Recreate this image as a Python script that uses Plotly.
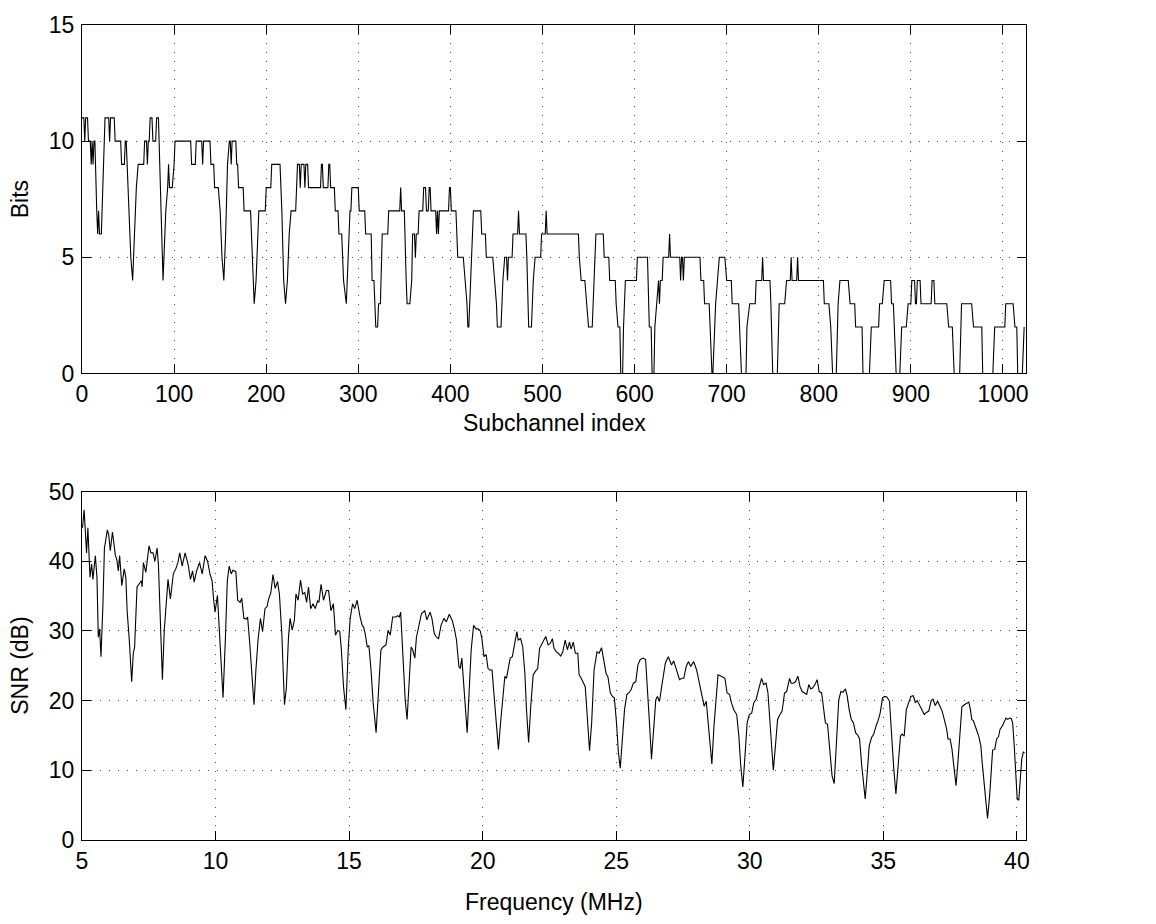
import plotly.graph_objects as go
from plotly.subplots import make_subplots

# ---- Top panel: bits per subchannel (vertices) ----
bits_idx = [0, 2, 3, 4, 6, 7, 9, 10, 11, 12, 13, 14, 16, 17, 18, 19, 21, 23, 24, 25, 29, 30, 31, 35, 36, 42, 43, 46, 47, 48,
            51, 53, 55, 57, 59, 61, 67, 68, 70, 71, 72, 73, 74, 76, 77, 80, 81, 83, 86, 88, 90, 91, 93, 94, 95, 98, 100, 101,
            118, 119, 123, 124, 130, 131, 132, 139, 140, 143, 144, 148, 150, 152, 154, 156, 158, 160, 161, 162, 163, 167,
            168, 169, 170, 175, 176, 183, 185, 187, 189, 190, 192, 199, 200, 205, 206, 215, 217, 219, 221, 223, 225, 227,
            232, 233, 234, 236, 237, 238, 241, 242, 243, 245, 246, 259, 260, 261, 262, 267, 268, 269, 270, 274, 275, 278,
            279, 282, 284, 287, 289, 291, 292, 293, 300, 301, 307, 308, 314, 315, 317, 319, 321, 322, 324, 326, 332, 333,
            345, 346, 347, 350, 352, 353, 356, 358, 359, 361, 362, 363, 365, 366, 370, 371, 373, 374, 376, 377, 378, 379,
            384, 385, 386, 387, 388, 398, 399, 400, 401, 406, 407, 408, 414, 416, 418, 419, 420, 422, 424, 425, 433, 434,
            438, 439, 446, 448, 450, 451, 455, 457, 459, 461, 462, 463, 467, 468, 473, 474, 475, 482, 483, 485, 488, 490,
            492, 498, 499, 503, 504, 505, 539, 540, 542, 546, 548, 550, 554, 556, 557, 558, 566, 567, 572, 573, 579, 580,
            582, 584, 585, 587, 588, 590, 602, 603, 614, 616, 618, 619, 621, 622, 624, 626, 627, 628, 630, 631, 637, 638,
            639, 649, 650, 651, 652, 653, 654, 671, 672, 675, 676, 681, 682, 684, 685, 687, 688, 690, 692, 698, 700, 705,
            706, 713, 714, 716, 721, 722, 725, 731, 732, 738, 739, 740, 747, 748, 750, 755, 757, 763, 765, 769, 770, 771,
            776, 777, 778, 805, 806, 811, 813, 815, 819, 821, 823, 832, 834, 839, 840, 847, 848, 855, 857, 865, 866, 869,
            871, 878, 879, 881, 882, 884, 888, 890, 895, 897, 900, 901, 904, 905, 906, 907, 910, 911, 922, 923, 925, 926,
            939, 941, 945, 947, 953, 955, 966, 968, 977, 978, 989, 991, 1002, 1003, 1011, 1013, 1015, 1016, 1021, 1023]
bits_val = [11, 11, 10, 11, 11, 10, 10, 9, 10, 9, 10, 10, 7, 6, 7, 6, 6, 9, 10, 11, 11, 10, 11, 11, 10, 10, 9, 9, 10, 10,
            7, 5, 4, 6, 8, 9, 9, 10, 10, 9, 10, 10, 11, 11, 10, 10, 11, 11, 7, 4, 6, 7, 8, 9, 8, 8, 9, 10,
            10, 9, 9, 10, 10, 9, 10, 10, 9, 9, 8, 8, 7, 5, 4, 6, 9, 10, 10, 9, 10, 10,
            9, 9, 8, 8, 7, 7, 5, 3, 4, 5, 7, 7, 8, 8, 9, 9, 7, 4, 3, 4, 6, 7,
            7, 8, 9, 9, 8, 9, 9, 8, 9, 9, 8, 8, 9, 9, 8, 8, 9, 9, 8, 8, 7, 7,
            6, 6, 4, 3, 5, 7, 7, 8, 8, 7, 7, 6, 6, 4, 4, 2, 2, 3, 3, 6, 6, 7,
            7, 8, 7, 7, 4, 3, 3, 4, 6, 6, 5, 6, 6, 7, 7, 8, 8, 7, 7, 8, 8, 7,
            7, 6, 7, 6, 7, 7, 8, 8, 7, 7, 6, 5, 5, 4, 3, 2, 2, 4, 6, 7, 7, 6,
            6, 5, 5, 4, 3, 2, 2, 4, 5, 5, 4, 5, 5, 6, 6, 7, 6, 6, 5, 2, 2, 4,
            5, 5, 6, 6, 7, 6, 6, 5, 4, 4, 3, 2, 2, 4, 5, 6, 6, 5, 5, 4, 4, 3,
            2, 2, 0, 0, 2, 4, 4, 5, 5, 2, 2, 0, 0, 2, 3, 4, 3, 4, 4, 5, 5, 6,
            5, 5, 4, 5, 5, 4, 5, 5, 4, 4, 3, 3, 2, 0, 0, 2, 3, 4, 5, 5, 4, 4,
            3, 3, 2, 0, 0, 2, 3, 3, 4, 4, 5, 4, 4, 3, 0, 0, 3, 3, 4, 4, 5, 4,
            4, 5, 4, 4, 3, 3, 2, 0, 0, 3, 4, 4, 3, 3, 2, 2, 0, 0, 2, 2, 3, 3,
            4, 4, 3, 3, 2, 0, 0, 2, 2, 3, 3, 4, 4, 3, 3, 4, 4, 3, 3, 4, 4, 3,
            3, 2, 2, 0, 0, 3, 3, 2, 2, 0, 0, 2, 2, 3, 3, 2, 2, 0, 0, 2]

# ---- Bottom panel: SNR vs frequency (vertices) ----
freq_mhz = [5.02, 5.08, 5.17, 5.22, 5.30, 5.36, 5.41, 5.50, 5.56, 5.61, 5.66, 5.71, 5.78, 5.84, 5.95, 6.00, 6.06, 6.14,
            6.25, 6.30, 6.36, 6.41, 6.49, 6.58, 6.64, 6.69, 6.77, 6.86, 6.92, 6.97, 7.06, 7.14, 7.22, 7.25, 7.30, 7.39,
            7.51, 7.58, 7.66, 7.73, 7.81, 7.86, 7.92, 8.01, 8.08, 8.22, 8.31, 8.42, 8.51, 8.59, 8.66, 8.75, 8.86, 8.97,
            9.06, 9.14, 9.20, 9.29, 9.40, 9.50, 9.61, 9.70, 9.79, 9.87, 9.92, 9.98, 10.07, 10.14, 10.28, 10.37, 10.44,
            10.51, 10.59, 10.65, 10.76, 10.83, 10.92, 10.98, 11.06, 11.15, 11.20, 11.28, 11.37, 11.44, 11.51, 11.59,
            11.68, 11.76, 11.85, 11.93, 11.98, 12.07, 12.15, 12.23, 12.32, 12.39, 12.48, 12.54, 12.58, 12.65, 12.73,
            12.79, 12.87, 12.95, 13.01, 13.09, 13.18, 13.26, 13.34, 13.41, 13.48, 13.56, 13.65, 13.73, 13.82, 13.87,
            13.95, 14.04, 14.15, 14.23, 14.32, 14.41, 14.49, 14.58, 14.65, 14.71, 14.79, 14.88, 14.97, 15.04, 15.13,
            15.21, 15.30, 15.41, 15.49, 15.54, 15.60, 15.68, 15.74, 15.82, 15.90, 16.01, 16.10, 16.19, 16.27, 16.38,
            16.46, 16.54, 16.63, 16.75, 16.82, 16.88, 16.93, 17.01, 17.10, 17.17, 17.23, 17.32, 17.38, 17.46, 17.52,
            17.60, 17.71, 17.83, 17.91, 18.03, 18.10, 18.19, 18.27, 18.35, 18.44, 18.55, 18.64, 18.75, 18.86, 18.94,
            19.02, 19.11, 19.16, 19.22, 19.27, 19.35, 19.42, 19.49, 19.57, 19.66, 19.75, 19.83, 19.91, 19.97, 20.05,
            20.13, 20.20, 20.27, 20.35, 20.44, 20.52, 20.59, 20.66, 20.74, 20.83, 20.89, 20.96, 21.03, 21.11, 21.19,
            21.28, 21.33, 21.42, 21.50, 21.58, 21.64, 21.72, 21.80, 21.89, 21.97, 22.06, 22.13, 22.20, 22.28, 22.36,
            22.45, 22.53, 22.61, 22.67, 22.76, 22.83, 22.92, 23.00, 23.09, 23.17, 23.25, 23.31, 23.39, 23.47, 23.56,
            23.61, 23.69, 23.76, 23.84, 23.89, 23.95, 24.00, 24.08, 24.17, 24.28, 24.36, 24.45, 24.54, 24.62, 24.69,
            24.78, 24.86, 24.93, 25.01, 25.08, 25.15, 25.23, 25.31, 25.40, 25.47, 25.56, 25.64, 25.73, 25.81, 25.90,
            26.01, 26.10, 26.17, 26.25, 26.32, 26.40, 26.48, 26.54, 26.62, 26.70, 26.77, 26.84, 26.95, 27.07, 27.15,
            27.25, 27.37, 27.46, 27.53, 27.62, 27.70, 27.79, 27.90, 28.01, 28.10, 28.18, 28.29, 28.37, 28.43, 28.51,
            28.58, 28.66, 28.74, 28.81, 28.93, 29.07, 29.15, 29.24, 29.31, 29.40, 29.51, 29.59, 29.66, 29.74, 29.82,
            29.90, 29.98, 30.07, 30.15, 30.24, 30.33, 30.44, 30.52, 30.61, 30.68, 30.77, 30.83, 30.88, 30.96, 31.04,
            31.13, 31.21, 31.30, 31.38, 31.49, 31.55, 31.63, 31.71, 31.80, 31.88, 31.96, 32.04, 32.13, 32.21, 32.28,
            32.35, 32.44, 32.52, 32.60, 32.69, 32.77, 32.83, 32.91, 32.99, 33.08, 33.16, 33.24, 33.33, 33.41, 33.49,
            33.58, 33.65, 33.72, 33.80, 33.88, 33.96, 34.05, 34.11, 34.19, 34.27, 34.32, 34.38, 34.47, 34.56, 34.64,
            34.73, 34.80, 34.88, 34.97, 35.05, 35.14, 35.23, 35.30, 35.39, 35.47, 35.55, 35.64, 35.70, 35.78, 35.86,
            35.94, 36.03, 36.12, 36.20, 36.27, 36.36, 36.45, 36.53, 36.61, 36.70, 36.79, 36.86, 36.94, 37.03, 37.12,
            37.20, 37.28, 37.37, 37.42, 37.50, 37.57, 37.64, 37.72, 37.79, 37.87, 37.94, 38.03, 38.12, 38.20, 38.26,
            38.31, 38.37, 38.42, 38.48, 38.57, 38.65, 38.70, 38.79, 38.85, 38.90, 38.98, 39.04, 39.09, 39.17, 39.24,
            39.31, 39.37, 39.46, 39.54, 39.59, 39.65, 39.73, 39.79, 39.84, 39.90, 39.96, 40.01, 40.07, 40.13, 40.18,
            40.24, 40.29]
snr_db = [44.8, 47.4, 41.2, 44.8, 37.7, 39.6, 37.4, 40.8, 37.7, 29.1, 30.3, 26.3, 33.4, 41.9, 44.5, 43.8, 41.5, 44.2,
          40.8, 40.3, 38.6, 40.8, 36.5, 38.9, 37.7, 32.9, 28.7, 22.7, 26.8, 27.7, 36.3, 36.7, 37.2, 36.3, 39.8, 38.4,
          42.2, 41.2, 41.2, 40.0, 41.9, 39.6, 33.4, 23.0, 30.1, 37.4, 34.6, 38.2, 38.9, 39.8, 41.2, 39.3, 41.2, 39.6,
          37.4, 38.6, 37.0, 38.6, 39.8, 38.2, 40.8, 40.0, 38.2, 37.2, 34.8, 32.7, 35.1, 30.1, 20.4, 29.1, 37.2,
          39.3, 38.2, 38.7, 38.5, 34.4, 34.1, 34.7, 31.8, 31.7, 32.0, 28.2, 23.0, 19.4, 24.4, 28.7,
          31.8, 29.9, 33.2, 33.5, 34.5, 35.5, 38.1, 36.1, 37.1, 35.3, 29.6, 23.0, 19.4, 21.8, 29.1,
          31.8, 30.1, 31.5, 35.3, 34.4, 37.3, 35.3, 35.5, 34.1, 36.3, 33.2, 33.9, 33.2, 34.3, 34.1,
          36.7, 34.4, 35.8, 35.8, 32.9, 33.9, 29.4, 30.1, 29.9, 27.3, 22.0, 18.7, 27.7, 31.8, 33.9,
          33.2, 34.4, 32.0, 30.8, 30.6, 29.6, 27.7, 27.9, 24.4, 19.7, 15.4, 21.1, 27.3, 27.7, 28.0,
          30.1, 29.4, 32.0, 32.0, 32.2, 32.0, 32.7, 26.8, 20.1, 17.3, 22.0, 27.7, 27.3, 26.1, 29.1,
          30.6, 32.5, 32.9, 31.6, 32.7, 31.8, 29.6, 29.1, 28.9, 30.8, 31.8, 31.3, 32.4, 31.5, 30.3,
          28.7, 24.9, 24.6, 26.1, 23.0, 19.2, 15.4, 21.1, 27.3, 30.8, 30.3, 30.3, 30.0, 28.9, 26.3,
          26.6, 24.6, 24.4, 24.4, 20.1, 15.9, 13.0, 16.4, 20.4, 23.5, 23.2, 24.9, 26.1, 26.3, 28.0,
          29.9, 28.7, 28.9, 27.7, 23.9, 18.7, 14.0, 19.2, 23.7, 24.2, 24.6, 27.5, 28.0, 28.7, 29.2,
          28.0, 28.2, 28.9, 27.5, 27.0, 26.8, 26.4, 27.0, 28.7, 27.3, 28.4, 27.4, 28.4, 26.8, 26.8,
          23.7, 23.2, 22.5, 22.0, 19.2, 15.4, 12.8, 16.8, 24.4, 27.0, 26.8, 27.6, 25.8, 23.9, 23.4,
          21.1, 20.6, 20.4, 16.8, 12.6, 10.3, 14.5, 18.7, 20.9, 21.1, 21.6, 22.5, 22.7, 25.1, 25.9,
          26.1, 25.9, 22.0, 16.4, 11.6, 16.4, 20.1, 20.6, 19.9, 22.0, 23.9, 25.4, 26.3, 25.1, 25.7,
          24.4, 23.0, 23.2, 23.2, 24.9, 25.6, 24.9, 25.6, 24.4, 22.7, 21.1, 19.2, 19.9, 17.3, 13.5,
          10.9, 16.4, 21.1, 23.7, 23.5, 23.2, 21.1, 20.9, 19.7, 18.7, 18.0, 14.9, 10.7, 7.6, 12.1,
          16.8, 18.0, 18.2, 19.7, 20.2, 21.6, 23.2, 22.3, 22.5, 21.1, 16.4, 12.1, 10.0, 13.5, 17.3,
          18.0, 18.5, 21.1, 21.3, 23.2, 22.5, 22.5, 22.7, 23.5, 22.0, 21.3, 21.1, 20.9, 22.3, 21.7,
          21.8, 22.3, 23.0, 21.3, 21.1, 18.2, 16.8, 16.6, 13.0, 9.2, 8.1, 13.5, 20.1, 21.3, 21.2,
          21.7, 20.6, 18.7, 17.3, 16.8, 15.4, 15.0, 14.5, 10.7, 7.1, 5.9, 8.8, 13.5, 14.7, 15.2,
          16.4, 17.1, 18.2, 20.4, 20.6, 20.5, 19.9, 15.4, 10.2, 6.6, 10.2, 14.9, 15.2, 14.9, 18.7,
          19.7, 20.6, 20.7, 19.7, 20.0, 19.3, 18.7, 18.0, 18.3, 18.5, 20.0, 20.2, 19.3, 19.9, 19.2,
          18.5, 17.3, 15.9, 14.5, 14.5, 13.0, 10.2, 7.8, 11.1, 15.9, 19.1, 19.4, 19.6, 19.8, 18.7,
          17.3, 17.1, 16.4, 15.9, 14.9, 13.5, 11.1, 7.3, 4.5, 3.1, 6.4, 10.2, 12.9, 13.0, 14.5,
          14.8, 15.9, 16.4, 17.1, 17.5, 17.3, 17.5, 17.4, 16.8, 13.5, 8.8, 5.9, 5.7, 8.3, 11.6,
          12.6, 12.5]

# ---- Axis ticks ----
x1_ticks = [0, 100, 200, 300, 400, 500, 600, 700, 800, 900, 1000]
y1_ticks = [0, 5, 10, 15]
x2_ticks = [5, 10, 15, 20, 25, 30, 35, 40]
y2_ticks = [0, 10, 20, 30, 40, 50]

FONT = "Liberation Sans, Arial, Helvetica, sans-serif"
FS = 23
W, H = 1156, 924
L, R, T, B = 82, 130, 12, 84
plot_h = H - T - B

def py(pix):
    return (H - B - pix) / plot_h

def px(pix):
    return (pix - L) / (W - L - R)

fig = make_subplots(rows=2, cols=1)
fig.add_trace(go.Scatter(x=bits_idx, y=bits_val, mode="lines",
                         line=dict(color="black", width=1.1), showlegend=False), row=1, col=1)
fig.add_trace(go.Scatter(x=freq_mhz, y=snr_db, mode="lines",
                         line=dict(color="black", width=1.1), showlegend=False), row=2, col=1)

axis_common = dict(
    showline=True, linecolor="black", linewidth=1, mirror="ticks",
    ticks="inside", ticklen=9, tickcolor="black", tickwidth=1,
    showgrid=True, gridcolor="#555555", gridwidth=1, griddash="1px,8px",
    zeroline=False, tickfont=dict(family=FONT, size=FS, color="black"),
)

fig.update_xaxes(**axis_common)
fig.update_yaxes(**axis_common)
fig.update_yaxes(ticklabelstandoff=2)

fig.update_layout(
    xaxis=dict(domain=[0, 1], range=[0, 1025], tickvals=x1_ticks, anchor="y"),
    yaxis=dict(domain=[py(366), 1], range=[0, 15], tickvals=y1_ticks, anchor="x"),
    xaxis2=dict(domain=[0, 1], range=[5, 40.34], tickvals=x2_ticks, anchor="y2"),
    yaxis2=dict(domain=[0, py(486)], range=[0, 50], tickvals=y2_ticks, anchor="x2"),
    width=W, height=H,
    margin=dict(l=L, r=R, t=T, b=B),
    paper_bgcolor="white", plot_bgcolor="white",
    font=dict(family=FONT, size=FS, color="black"),
    annotations=[
        dict(text="Subchannel index", x=0.5, y=py(416), xref="paper", yref="paper",
             showarrow=False, xanchor="center", yanchor="middle", font=dict(size=FS)),
        dict(text="Frequency (MHz)", x=0.5, y=py(903), xref="paper", yref="paper",
             showarrow=False, xanchor="center", yanchor="middle", font=dict(size=FS)),
        dict(text="Bits", x=px(20), y=py(189), xref="paper", yref="paper", textangle=-90,
             showarrow=False, xanchor="center", yanchor="middle", font=dict(size=FS)),
        dict(text="SNR (dB)", x=px(20), y=py(663), xref="paper", yref="paper", textangle=-90,
             showarrow=False, xanchor="center", yanchor="middle", font=dict(size=FS)),
    ],
)

fig.write_html("out.html")
